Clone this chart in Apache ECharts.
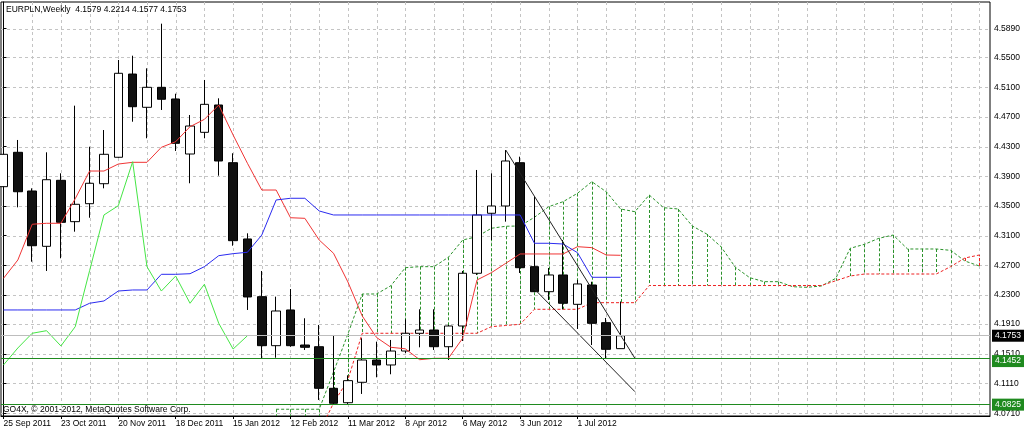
<!DOCTYPE html>
<html><head><meta charset="utf-8">
<script src="https://cdn.jsdelivr.net/npm/echarts@6/dist/echarts.min.js"></script>
<style>html,body{margin:0;padding:0;background:#fff}#c{width:1024px;height:432px}</style>
</head><body><div id="c"></div>
<script>
// ---- data (weekly bars, index 0 = 25 Sep 2011) ----
const dateLabels = ['25 Sep 2011','23 Oct 2011','20 Nov 2011','18 Dec 2011','15 Jan 2012','12 Feb 2012','11 Mar 2012','8 Apr 2012','6 May 2012','3 Jun 2012','1 Jul 2012'];
const dateLabelIdx = [0,4,8,12,16,20,24,28,32,36,40];
const open  = [4.3760,4.4223,4.3702,4.2957,4.3846,4.3289,4.3531,4.3800,4.4156,4.5277,4.4829,4.5098,4.4941,4.4200,4.4492,4.4860,4.4083,4.3056,4.2279,4.1619,4.2100,4.1628,4.1605,4.1045,4.0851,4.1126,4.1426,4.1359,4.1547,4.1786,4.1830,4.1605,4.1884,4.2594,4.3402,4.3500,4.4083,4.2683,4.2346,4.2571,4.2176,4.2436,4.1929,4.1579];
const high  = [4.4613,4.4389,4.3738,4.4223,4.3940,4.4851,4.4298,4.4523,4.5466,4.5524,4.5354,4.5955,4.5012,4.4725,4.5197,4.4950,4.4210,4.3132,4.2625,4.2279,4.2382,4.1988,4.1898,4.1763,4.1220,4.1719,4.1673,4.1696,4.1974,4.2109,4.2109,4.1898,4.2625,4.3985,4.3940,4.4254,4.4164,4.3625,4.2665,4.3042,4.2504,4.2480,4.1992,4.2214];
const low   = [4.3590,4.3482,4.2750,4.2625,4.2796,4.3154,4.3342,4.3738,4.4150,4.4635,4.4412,4.4793,4.4241,4.3806,4.4412,4.3908,4.2965,4.2100,4.1449,4.1457,4.1605,4.1561,4.0888,4.0825,4.0834,4.0969,4.1193,4.1234,4.1517,4.1597,4.1561,4.1426,4.1682,4.2571,4.3042,4.3289,4.2598,4.2342,4.2234,4.2109,4.1844,4.1628,4.1452,4.1577];
const close = [4.4196,4.3692,4.2965,4.3854,4.3280,4.3523,4.3806,4.4196,4.5287,4.4837,4.5098,4.4937,4.4344,4.4577,4.4869,4.4106,4.3033,4.2275,4.1619,4.2086,4.1619,4.1597,4.1045,4.0843,4.1148,4.1426,4.1359,4.1547,4.1786,4.1830,4.1605,4.1884,4.2594,4.3379,4.3500,4.4106,4.2669,4.2346,4.2571,4.2190,4.2450,4.1920,4.1570,4.1753];
const tenkan = [4.2526,4.2773,4.3254,4.3267,4.3267,4.3598,4.3971,4.3971,4.4065,4.4088,4.4088,4.4290,4.4366,4.4568,4.4667,4.4860,4.4456,4.4075,4.3715,4.3715,4.3342,4.3334,4.3042,4.2863,4.2477,4.2019,4.1729,4.1597,4.1577,4.1430,4.1449,4.1449,4.1719,4.2504,4.2602,4.2728,4.2854,4.2854,4.2854,4.2854,4.2952,4.2939,4.2840,4.2836];
const kijun = [4.2100,4.2100,4.2100,4.2100,4.2100,4.2100,4.2190,4.2221,4.2355,4.2369,4.2369,4.2580,4.2580,4.2588,4.2683,4.2831,4.2858,4.2877,4.3109,4.3581,4.3604,4.3604,4.3433,4.3379,4.3379,4.3379,4.3379,4.3379,4.3379,4.3379,4.3379,4.3379,4.3379,4.3379,4.3379,4.3379,4.3379,4.2998,4.2998,4.2988,4.2871,4.2540,4.2540,4.2540];
const chikou = [4.1359,4.1588,4.1786,4.1821,4.1615,4.1875,4.2629,4.3379,4.3504,4.4096,4.2683,4.2355,4.2557,4.2190,4.2446,4.1920,4.1574,4.1753];
const spanStart = 19;
const spanA = [4.0763,4.0763,4.0763,4.0763,4.1265,4.1776,4.2315,4.2315,4.2427,4.2669,4.2683,4.2683,4.2809,4.3042,4.3087,4.3200,4.3227,4.3231,4.3348,4.3491,4.3558,4.3671,4.3827,4.3692,4.3460,4.3423,4.3648,4.3477,4.3460,4.3231,4.3123,4.2952,4.2675,4.2535,4.2481,4.2481,4.2413,4.2405,4.2423,4.2526,4.2930,4.2984,4.3065,4.3109,4.2921,4.2921,4.2921,4.2903,4.2759,4.2692];
const spanB = [4.0450,4.0450,4.0450,4.0450,4.0847,4.1157,4.1786,4.1786,4.1786,4.1786,4.1786,4.1786,4.1786,4.1786,4.1786,4.1875,4.1891,4.1907,4.2109,4.2109,4.2109,4.2109,4.2198,4.2198,4.2198,4.2198,4.2429,4.2429,4.2429,4.2429,4.2429,4.2429,4.2429,4.2429,4.2429,4.2429,4.2429,4.2429,4.2429,4.2494,4.2557,4.2584,4.2584,4.2584,4.2584,4.2584,4.2584,4.2683,4.2800,4.2840];
const trendUpper = [[35,4.4254],[44,4.1449]];
const trendLower = [[37,4.2382],[44,4.1000]];
const yTicks = [4.0710,4.1110,4.1510,4.1910,4.2300,4.2700,4.3100,4.3500,4.3900,4.4300,4.4700,4.5100,4.5500,4.5890];
const gridX = [0,2,4,6,8,10,12,14,16,18,20,22,24,26,28,30,32,34,36,38,40,42,44,46,48,50,52,54,56,58,60,62,64,66,68];
const bidPrice = 4.1753, supportLevel = 4.1452, lowLevel = 4.0825;
const titleText = 'EURPLN,Weekly  4.1579 4.2214 4.1577 4.1753';
const footerText = 'GO4X, \u00a9 2001-2012, MetaQuotes Software Corp.';

// ---- chart ----
const FONT = 'Liberation Sans, Arial, sans-serif';
const GREEN = '#1f8a1f';
const chart = echarts.init(document.getElementById('c'), null, {renderer:'canvas'});
const crisp = v => Math.round(v) + 0.5;

const candleData = open.map((o, i) => [i, o, close[i], low[i], high[i]]);
const hatchData = spanA.map((a, j) => [spanStart + j, a, spanB[j]]);

chart.setOption({
  animation: false,
  backgroundColor: '#fff',
  grid: {left: 1, right: 34, top: 2, bottom: 16, show: true, borderColor: '#000', borderWidth: 1, backgroundColor: '#fff'},
  xAxis: {
    type: 'value', min: -0.174, max: 68.746,
    axisLine: {show: true, lineStyle: {color: '#000', width: 1}},
    axisTick: {show: true, customValues: dateLabelIdx, length: 3, lineStyle: {color: '#000'}},
    axisLabel: {customValues: dateLabelIdx, formatter: v => dateLabels[dateLabelIdx.indexOf(Math.round(v))] || '',
      align: 'left', fontSize: 8.5, fontFamily: FONT, color: '#000', margin: 3},
    splitLine: {show: false}
  },
  yAxis: {
    type: 'value', position: 'right', min: 4.0672, max: 4.6247,
    axisLine: {show: true, lineStyle: {color: '#000', width: 1}},
    axisTick: {show: true, customValues: yTicks, length: 3, lineStyle: {color: '#000'}},
    axisLabel: {customValues: yTicks, formatter: v => v.toFixed(4), fontSize: 8.5, fontFamily: FONT, color: '#000', margin: 4},
    splitLine: {show: false}
  },
  graphic: [
    {type: 'text', left: 6, top: 5, z: 100, style: {text: titleText, fill: '#000', font: '8.5px ' + FONT}},
    {type: 'text', left: 3, top: 405, z: 100, style: {text: footerText, fill: '#000', font: '8.5px ' + FONT}}
  ],
  series: [
    { // horizontal grid
      type: 'custom', z: 0, silent: true, data: yTicks.map(v => [0, v]),
      renderItem(params, api) {
        const cs = params.coordSys; const y = crisp(api.coord([0, api.value(1)])[1]);
        return {type: 'line', shape: {x1: cs.x, y1: y, x2: cs.x + cs.width, y2: y}, style: {stroke: '#c4c4c4', lineDash: [3, 3], lineWidth: 1}};
      }
    },
    { // vertical grid
      type: 'custom', z: 0, silent: true, data: gridX.map(v => [v, 4.3]),
      renderItem(params, api) {
        const cs = params.coordSys; const x = crisp(api.coord([api.value(0), 4.3])[0]);
        return {type: 'line', shape: {x1: x, y1: cs.y, x2: x, y2: cs.y + cs.height}, style: {stroke: '#c4c4c4', lineDash: [3, 3], lineWidth: 1}};
      }
    },
    { // cloud hatching
      type: 'custom', z: 1, silent: true, data: hatchData,
      renderItem(params, api) {
        const cs = params.coordSys;
        const i = api.value(0), a = api.value(1), b = api.value(2);
        const x = crisp(api.coord([i, a])[0]);
        const clampY = y => Math.max(cs.y, Math.min(cs.y + cs.height, y));
        const y1 = clampY(api.coord([i, a])[1]), y2 = clampY(api.coord([i, b])[1]);
        return {type: 'line', shape: {x1: x, y1: y1, x2: x, y2: y2}, style: {stroke: a >= b ? '#2a922a' : '#ee2222', lineDash: [3, 2], lineWidth: 1}};
      }
    },
    {type: 'line', z: 2, silent: true, showSymbol: false, symbol: 'none', data: spanA.map((v, j) => [spanStart + j, v]),
      lineStyle: {color: '#2a922a', width: 1, type: [3, 2]}},
    {type: 'line', z: 2, silent: true, showSymbol: false, symbol: 'none', data: spanB.map((v, j) => [spanStart + j, v]),
      lineStyle: {color: '#ee2222', width: 1, type: [3, 2]},
      markLine: {
        silent: true, symbol: 'none', animation: false, precision: 4,
        label: {show: true, position: 'end', distance: 2, fontSize: 8.5, fontFamily: FONT, color: '#fff', padding: [2, 3, 1, 3]},
        data: [
          {yAxis: bidPrice, lineStyle: {color: '#bdbdbd', type: 'solid', width: 1}, label: {backgroundColor: '#000', formatter: bidPrice.toFixed(4)}},
          {yAxis: supportLevel, lineStyle: {color: GREEN, type: 'solid', width: 1}, label: {backgroundColor: GREEN, offset: [0, 3], formatter: supportLevel.toFixed(4)}},
          {yAxis: lowLevel, lineStyle: {color: GREEN, type: 'solid', width: 1}, label: {backgroundColor: GREEN, formatter: lowLevel.toFixed(4)}}
        ]
      }
    },
    {type: 'candlestick', z: 3, silent: true, barWidth: 9, data: candleData,
      itemStyle: {color: '#fff', color0: '#111', borderColor: '#000', borderColor0: '#000', borderWidth: 1}},
    {type: 'line', z: 4, silent: true, showSymbol: false, symbol: 'none', data: tenkan.map((v, i) => [i, v]), lineStyle: {color: '#f03535', width: 1}},
    {type: 'line', z: 4, silent: true, showSymbol: false, symbol: 'none', data: kijun.map((v, i) => [i, v]), lineStyle: {color: '#2b2bf0', width: 1}},
    {type: 'line', z: 4, silent: true, showSymbol: false, symbol: 'none', data: chikou.map((v, i) => [i, v]), lineStyle: {color: '#45e645', width: 1}},
    {type: 'line', z: 4, silent: true, showSymbol: false, symbol: 'none', data: trendUpper, lineStyle: {color: '#222', width: 1}},
    {type: 'line', z: 4, silent: true, showSymbol: false, symbol: 'none', data: trendLower, lineStyle: {color: '#222', width: 1}}
  ]
});
</script>
</body></html>
